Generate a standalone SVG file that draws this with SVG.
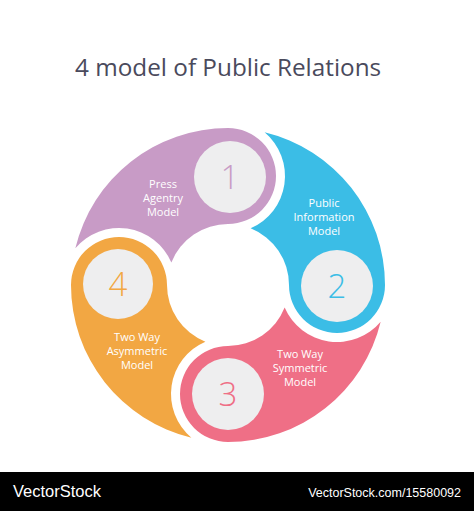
<svg xmlns="http://www.w3.org/2000/svg" xmlns:xlink="http://www.w3.org/1999/xlink" width="474" height="511" viewBox="0 0 474 511">
  <style>
    .title { font-family: "Open Sans", "Liberation Sans", sans-serif; font-size: 24.3px; fill: #4a4a5c; }
    .lbl { font-family: "Open Sans", "Liberation Sans", sans-serif; font-size: 11px; fill: #ffffff; text-anchor: middle; }
    .num { font-family: "Open Sans", "Liberation Sans", sans-serif; font-size: 33px; font-weight: 300; text-anchor: middle; }
    .disc { fill: #eeeeef; }
    .wm { font-family: "Liberation Sans", "Inter", sans-serif; fill: #ffffff; }
  </style>
  <defs>
    <path id="seg" d="M-152.66,-36.63 A157,157 0 0 1 0,-157 A48,48 0 0 1 48,-109 A48,48 0 0 1 0,-61 A61,61 0 0 0 -56.66,-22.61 A57,57 0 0 0 -152.66,-36.63 Z"/>
  </defs>
  <rect width="474" height="511" fill="#ffffff"/>
  <text class="title" x="75" y="76">4 model of Public Relations</text>

  <g id="connectors"></g>

  <g id="node1">
    <use xlink:href="#seg" href="#seg" transform="translate(228,285)" fill="#c89bc6"/>
    <circle class="disc" cx="230" cy="177" r="36"/>
    <text class="num" x="230" y="189" fill="#c89bc6">1</text>
    <text class="lbl" x="163" y="188">Press</text>
    <text class="lbl" x="163" y="202">Agentry</text>
    <text class="lbl" x="163" y="216">Model</text>
  </g>

  <g id="node2">
    <use xlink:href="#seg" href="#seg" transform="translate(228,285) rotate(90)" fill="#3bbde6"/>
    <circle class="disc" cx="337" cy="286" r="36"/>
    <text class="num" x="337" y="298" fill="#3bbde6">2</text>
    <text class="lbl" x="324" y="207">Public</text>
    <text class="lbl" x="324" y="221">Information</text>
    <text class="lbl" x="324" y="235">Model</text>
  </g>

  <g id="node3">
    <use xlink:href="#seg" href="#seg" transform="translate(228,285) rotate(180)" fill="#ef6f86"/>
    <circle class="disc" cx="228" cy="394" r="36"/>
    <text class="num" x="228" y="406" fill="#ef6f86">3</text>
    <text class="lbl" x="300" y="358">Two Way</text>
    <text class="lbl" x="300" y="372">Symmetric</text>
    <text class="lbl" x="300" y="386">Model</text>
  </g>

  <g id="node4">
    <use xlink:href="#seg" href="#seg" transform="translate(228,285) rotate(270)" fill="#f2a743"/>
    <circle class="disc" cx="118" cy="284" r="35"/>
    <text class="num" x="118" y="296" fill="#f2a743">4</text>
    <text class="lbl" x="137" y="341">Two Way</text>
    <text class="lbl" x="137" y="355">Asymmetric</text>
    <text class="lbl" x="137" y="369">Model</text>
  </g>

  <g id="watermark">
    <rect x="0" y="472" width="474" height="39" fill="#000000"/>
    <text class="wm" x="13" y="497" font-size="16.5">VectorStock</text>
    <text class="wm" x="461" y="497" font-size="12.5" text-anchor="end">VectorStock.com/15580092</text>
  </g>
</svg>
